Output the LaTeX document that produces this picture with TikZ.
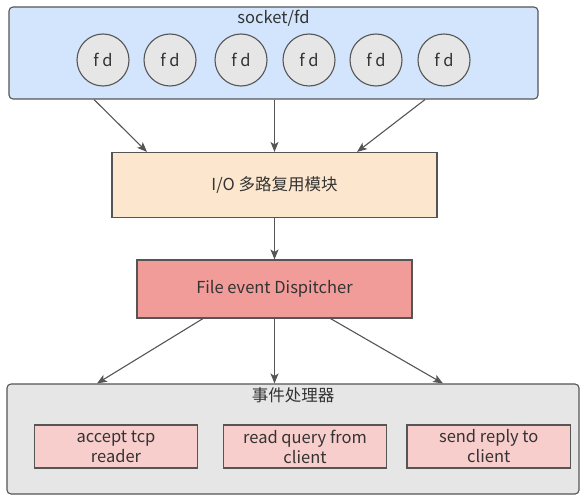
\documentclass[tikz,border=0pt]{standalone}
\usepackage{fontspec}
\setmainfont{Noto Sans CJK SC}
\usetikzlibrary{arrows.meta}
\definecolor{azulfd}{HTML}{D3E5FC}
\definecolor{grisfd}{HTML}{E6E6E6}
\definecolor{durazno}{HTML}{FCE7CE}
\definecolor{rojizo}{HTML}{F19C99}
\definecolor{rosado}{HTML}{F8CECC}
\definecolor{trazo}{HTML}{555555}

\begin{document}
\begin{tikzpicture}[x=1pt,y=-1pt,
  font=\fontsize{16.5}{20}\selectfont,
  caja/.style={draw=trazo,line width=1.1pt,inner sep=0pt,text=black!80,align=center},
  circfd/.style={caja,circle,fill=grisfd,minimum size=52pt},
  flecha/.style={draw=trazo,line width=1.1pt,-{Stealth[length=10pt,width=8pt,inset=2.5pt]}}]
\useasboundingbox (0,0) rectangle (585,500);
%
% socket/fd
\node[caja,fill=azulfd,rounded corners=4pt,minimum width=529pt,minimum height=92pt]
  (sock) at (273.5,53) {};
\node[text=black!80] (socktit) at (273.5,18) {socket/fd};
\foreach \i/\x in {1/103,2/170,3/241,4/309,5/376,6/444}
\node[circfd] (fd\i) at (\x,60) {f d};
%
% multiplexacion y despachador
\node[caja,fill=durazno,minimum width=325pt,minimum height=65pt]
  (io) at (274.5,185) {I/O 多路复用模块};
\node[caja,fill=rojizo,minimum width=275pt,minimum height=58pt]
  (disp) at (274.5,289) {File event Dispitcher};
%
% manejadores
\node[caja,fill=grisfd,rounded corners=4pt,minimum width=572pt,minimum height=110pt]
  (manej) at (293,439) {};
\node[text=black!80] (manejtit) at (293,395) {事件处理器};
\node[caja,fill=rosado,minimum width=163.5pt,minimum height=43pt]
  (acep) at (116,446.5) {accept tcp\\reader};
\node[caja,fill=rosado,minimum width=163.5pt,minimum height=43pt]
  (leer) at (305,446.5) {read query from\\client};
\node[caja,fill=rosado,minimum width=163.5pt,minimum height=43pt]
  (resp) at (488.75,446.5) {send reply to\\client};
%
% flechas
\draw[flecha] ([xshift=-179.5pt]sock.south) -- ([xshift=-127.5pt]io.north);
\draw[flecha] (sock.south -| io.north) -- (io.north);
\draw[flecha] ([xshift=151.5pt]sock.south) -- ([xshift=82.5pt]io.north);
\draw[flecha] (io.south) -- (disp.north);
\draw[flecha] ([xshift=-71.5pt]disp.south) -- ([xshift=-196pt]manej.north);
\draw[flecha] (disp.south) -- (disp.south |- manej.north);
\draw[flecha] ([xshift=56pt]disp.south) -- ([xshift=150pt]manej.north);
\end{tikzpicture}
\end{document}
